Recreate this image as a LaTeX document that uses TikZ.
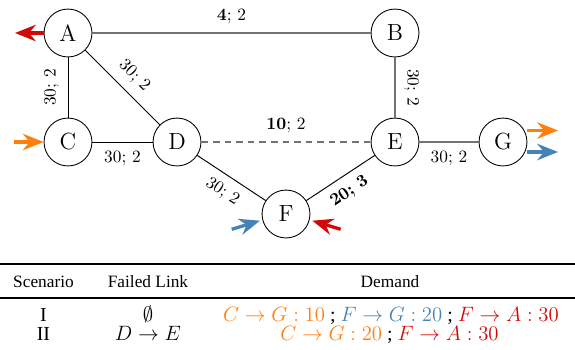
\documentclass[tikz,border=0pt]{standalone}
\usepackage{fontspec}
\newfontfamily\tabfont{Liberation Serif}
\usetikzlibrary{arrows.meta}
\definecolor{cor}{RGB}{255,127,14}
\definecolor{cbl}{RGB}{70,130,180}
\definecolor{crd}{RGB}{208,10,10}
\definecolor{lgray}{RGB}{115,115,115}
\newcommand\dmfont{\fontsize{11.5}{14}\selectfont}
\begin{document}
\begin{tikzpicture}[x=0.578pt,y=-0.578pt,
  nd/.style={circle,draw,line width=0.5pt,minimum size=27.7pt,inner sep=0pt,font=\fontsize{13.5}{16}\selectfont,fill=white},
  bl/.style={line width=0.55pt},
  gl/.style={line width=0.8pt,draw=lgray},
  lab/.style={font=\normalsize,inner sep=2pt},
  arr/.style={line width=1.9pt,-{Stealth[length=12pt,width=9.5pt]}},
  tab/.style={font=\tabfont,inner sep=0pt,anchor=base},
]
\useasboundingbox (0,0) rectangle (575,349);
% nodes
\node[nd] (A) at (68,33) {A};
\node[nd] (B) at (395,33) {B};
\node[nd] (C) at (68,142) {C};
\node[nd] (D) at (177,142) {D};
\node[nd] (E) at (395,142) {E};
\node[nd] (F) at (286,214) {F};
\node[nd] (G) at (503,142) {G};
% edges
\draw[gl] (A) -- node[lab,above=3pt] {\textbf{4}; 2} (B);
\draw[gl] (B) -- node[lab,sloped,above=3pt] {30; 2} (E);
\draw[gl] (E) -- node[lab,below=3pt] {30; 2} (G);
\draw[gl,dash pattern=on 3.8pt off 2.9pt] (D) -- node[lab,above=3pt] {\textbf{10}; 2} (E);
\draw[bl] (C) -- node[lab,sloped,above=3pt] {30; 2} (A);
\draw[bl] (A) -- node[lab,sloped,above=3pt] {30; 2} (D);
\draw[bl] (C) -- node[lab,below=3pt] {30; 2} (D);
\draw[bl] (D) -- node[lab,sloped,below=3pt] {30; 2} (F);
\draw[bl] (F) -- node[lab,sloped,below=3pt] {\textbf{20; 3}} (E);
% demand arrows
\coordinate (Aout) at (15,33);
\coordinate (Cin) at (14,142);
\coordinate (Go1) at (527,130.5);
\coordinate (Ge1) at (558,130.5);
\coordinate (Go2) at (527,152);
\coordinate (Ge2) at (558,152);
\coordinate (Fb) at (231.7,229.3);
\coordinate (Fbt) at (260,220.7);
\coordinate (Fr) at (340.7,229.3);
\coordinate (Frt) at (312.3,220.7);
\draw[arr,crd] (A.west) -- (Aout);
\draw[arr,cor] (Cin) -- (C.west);
\draw[arr,cor] (Go1) -- (Ge1);
\draw[arr,cbl] (Go2) -- (Ge2);
\draw[arr,cbl] (Fb) -- (Fbt);
\draw[arr,crd] (Fr) -- (Frt);
% table
\draw[line width=1pt] (0,264) -- (575,264);
\draw[line width=0.6pt] (0,298) -- (575,298);
\node[tab] (h1) at (43.5,287.5) {Scenario};
\node[tab] (h2) at (148,287.5) {Failed Link};
\node[tab] (h3) at (390,287.5) {Demand};
\node[tab] (r1a) at (43.5,321.3) {\dmfont I};
\node[tab] (r1b) at (148,321.3) {\dmfont$\emptyset$};
\node[tab] (r1c) at (391,321.3) {\dmfont{\color{cor}$C\rightarrow G:10$} ; {\color{cbl}$F\rightarrow G:20$} ; {\color{crd}$F\rightarrow A:30$}};
\node[tab] (r2a) at (43.5,340.7) {\dmfont II};
\node[tab] (r2b) at (148,340.7) {\dmfont$D\rightarrow E$};
\node[tab] (r2c) at (389.5,340.7) {\dmfont{\color{cor}$C\rightarrow G:20$} ; {\color{crd}$F\rightarrow A:30$}};
\end{tikzpicture}
\end{document}
